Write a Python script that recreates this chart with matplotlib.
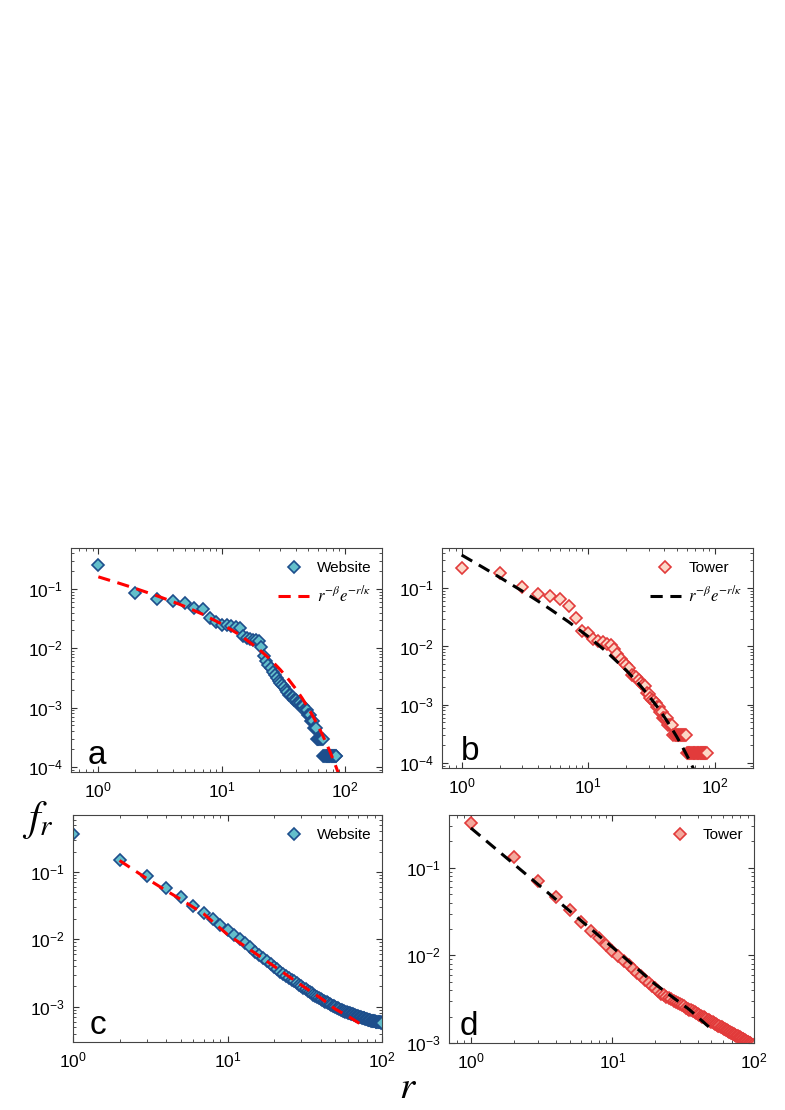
import numpy as np
import matplotlib
matplotlib.use("Agg")
import matplotlib.pyplot as plt

plt.rcParams['font.family'] = ['Liberation Sans', 'DejaVu Sans']
plt.rcParams['mathtext.fontset'] = 'stix'
plt.rcParams['mathtext.default'] = 'it'

# ---------------- data ----------------
# (a) Website rank-frequency
a_rank = list(range(1, 86))
a_freq = [0.254, 0.087, 0.067, 0.063, 0.059, 0.047, 0.046, 0.032, 0.028, 0.0247,
          0.0247, 0.0238, 0.0232, 0.0223, 0.0158, 0.0148, 0.0142, 0.0138, 0.0136, 0.0130,
          0.0107, 0.0075, 0.0062, 0.0052, 0.0046, 0.0040, 0.0035, 0.0031, 0.0028, 0.0026,
          0.0024, 0.0022, 0.0020, 0.0018, 0.00165, 0.00165, 0.0015, 0.0015, 0.00135, 0.00135,
          0.0012, 0.0012, 0.0012, 0.00105, 0.00105, 0.00105, 0.0009, 0.0009, 0.0009, 0.00075,
          0.00075, 0.00075, 0.0006, 0.0006, 0.0006, 0.00045, 0.00045, 0.00045, 0.0003, 0.0003,
          0.0003, 0.0003, 0.0003, 0.0003, 0.0003, 0.0003, 0.00015, 0.00015, 0.00015, 0.00015,
          0.00015, 0.00015, 0.00015, 0.00015, 0.00015, 0.00015, 0.00015, 0.00015, 0.00015, 0.00015,
          0.00015, 0.00015, 0.00015, 0.00015, 0.00015]
a_fit_r = [1, 1.5, 2, 3, 4, 5, 7, 10, 14, 20, 25, 30, 35, 40, 45, 50, 55, 60, 65, 70, 75, 80, 85, 88]
a_fit_f = [0.160, 0.1234, 0.1019, 0.0764, 0.0612, 0.0509, 0.0375, 0.0257, 0.01684, 0.0097,
           0.0064, 0.00432, 0.00296, 0.00206, 0.00144, 0.00101, 0.000718, 0.000512, 0.000366,
           0.000262, 0.000189, 0.000136, 0.0000984, 0.0000811]

# (b) Tower rank-frequency
b_rank = list(range(1, 87))
b_freq = [0.218, 0.183, 0.105, 0.078, 0.073, 0.0665, 0.049, 0.0314, 0.0185, 0.0167,
          0.0135, 0.0125, 0.0120, 0.0110, 0.0105, 0.0090, 0.0075, 0.0060, 0.0052, 0.0048,
          0.0042, 0.0033, 0.0031, 0.0030, 0.0027, 0.0024, 0.0022, 0.0021, 0.0016, 0.0015,
          0.0013, 0.0012, 0.00115, 0.00105, 0.0009, 0.0009, 0.00075, 0.00075, 0.0006, 0.0006,
          0.0006, 0.0006, 0.00045, 0.00045, 0.00045, 0.00045, 0.0003, 0.0003, 0.0003, 0.0003,
          0.0003, 0.0003, 0.0003, 0.0003, 0.0003, 0.0003, 0.0003, 0.0003, 0.0003, 0.00015,
          0.00015, 0.00015, 0.00015, 0.00015, 0.00015, 0.00015, 0.00015, 0.00015, 0.00015, 0.00015,
          0.00015, 0.00015, 0.00015, 0.00015, 0.00015, 0.00015, 0.00015, 0.00015, 0.00015, 0.00015,
          0.00015, 0.00015, 0.00015, 0.00015, 0.00015, 0.00015]
b_fit_r = [1, 1.5, 2, 3, 4, 5, 7, 10, 14, 20, 25, 30, 35, 40, 45, 50, 55, 60, 65, 68]
b_fit_f = [0.3715, 0.2226, 0.1535, 0.0897, 0.0603, 0.0438, 0.02643, 0.01479, 0.00806, 0.00388,
           0.0023, 0.001434, 0.000925, 0.000611, 0.000412, 0.000282, 0.000195, 0.000136,
           0.0000961, 0.0000782]

# (c) Website model
c_rank = list(range(1, 101))
c_freq = [0.365, 0.150, 0.088, 0.057, 0.042, 0.031, 0.0245, 0.020, 0.0164, 0.0138,
          0.0117, 0.0101, 0.0088, 0.0076, 0.0066, 0.0059, 0.0052, 0.0047, 0.0043, 0.0039,
          0.00360, 0.00333, 0.00310, 0.00289, 0.00270, 0.00253, 0.00238, 0.00224, 0.00211, 0.00200,
          0.00191, 0.00182, 0.00174, 0.00166, 0.00159, 0.00152, 0.00146, 0.00141, 0.00136, 0.00131,
          0.00127, 0.00123, 0.00119, 0.00116, 0.00113, 0.00110, 0.00107, 0.00104, 0.00101, 0.00099,
          0.00097, 0.00095, 0.00093, 0.00091, 0.00089, 0.00088, 0.00086, 0.00085, 0.00084, 0.00082,
          0.00081, 0.00080, 0.00079, 0.00078, 0.00077, 0.00076, 0.00075, 0.00074, 0.00073, 0.00072,
          0.00071, 0.00070, 0.000695, 0.00069, 0.00068, 0.000675, 0.00067, 0.00066, 0.000655, 0.00065,
          0.000645, 0.00064, 0.000635, 0.00063, 0.000625, 0.00062, 0.000617, 0.000613, 0.00061, 0.000607,
          0.000604, 0.00060, 0.000598, 0.000595, 0.000592, 0.00059, 0.000588, 0.000586, 0.000584, 0.000582]
c_fit_r = [2, 3, 4, 5, 7, 10, 15, 20, 30, 40, 50, 60, 72]
c_fit_f = [0.148, 0.080, 0.053, 0.039, 0.024, 0.0118, 0.0063, 0.0040, 0.0021, 0.00135,
           0.00092, 0.00073, 0.00056]

# (d) Tower model
d_rank = list(range(1, 101))
d_freq = [0.32, 0.134, 0.071, 0.046, 0.033, 0.0243, 0.0190, 0.0158, 0.0132, 0.0113,
          0.00985, 0.00871, 0.00776, 0.00698, 0.00633, 0.00577, 0.00529, 0.00488, 0.00451, 0.00419,
          0.00391, 0.00366, 0.00352, 0.00339, 0.00326, 0.00315, 0.00304, 0.00295, 0.00286, 0.00277,
          0.00269, 0.00261, 0.00254, 0.00247, 0.00241, 0.00235, 0.00229, 0.00224, 0.00219, 0.00214,
          0.00209, 0.00205, 0.00200, 0.00196, 0.00192, 0.00188, 0.00185, 0.00181, 0.00178, 0.00175,
          0.00172, 0.00169, 0.00166, 0.00163, 0.00160, 0.00158, 0.00155, 0.00153, 0.00151, 0.00148,
          0.00146, 0.00144, 0.00142, 0.00140, 0.00138, 0.00136, 0.00134, 0.00133, 0.00131, 0.00129,
          0.00128, 0.00126, 0.00124, 0.00123, 0.00121, 0.00120, 0.00119, 0.00117, 0.00116, 0.00115,
          0.00113, 0.00112, 0.00111, 0.00110, 0.00108, 0.00107, 0.00106, 0.00105, 0.00104, 0.00103,
          0.00102, 0.00101, 0.00100, 0.00099, 0.00098, 0.00097, 0.00096, 0.00095, 0.00094, 0.00093]
d_fit_r = [1, 2, 3, 5, 10, 20, 35, 51]
d_fit_f = [0.284, 0.111, 0.064, 0.032, 0.0124, 0.0047, 0.0024, 0.0014]

web_label = "Website"
tower_label = "Tower"
fit_label = r"$r^{-\beta}e^{-r/\kappa}$"

# ---------------- styles ----------------
WEB_FACE, WEB_EDGE = "#63bfcb", "#1d4e8c"
TOW_FACE_B, TOW_EDGE = "#fcd8c8", "#e23b3b"
TOW_FACE_D = "#f4a89c"

W, H = 785, 1110
fig = plt.figure(figsize=(W / 100, H / 100), dpi=100)


def ax_at(l, t, r, b):
    return fig.add_axes([l / W, 1 - b / H, (r - l) / W, (b - t) / H])


axa = ax_at(71, 548, 382, 772)
axb = ax_at(442, 548, 753, 768)
axc = ax_at(73, 815, 382, 1042)
axd = ax_at(449, 815, 754, 1043)

mk = dict(marker='D', ms=6.0, mew=1.2, ls='none')
dash = (0, (4, 2.5))

axa.plot(a_rank, a_freq, mfc=WEB_FACE, mec=WEB_EDGE, label=web_label, **mk)
axa.plot(a_fit_r, a_fit_f, color='#ff0000', ls=dash, lw=2.2, label=fit_label)
axa.set_xlim(0.6, 200)
axa.set_ylim(8.2e-5, 0.49)

axb.plot(b_rank, b_freq, mfc=TOW_FACE_B, mec=TOW_EDGE, label=tower_label, **mk)
axb.plot(b_fit_r, b_fit_f, color='black', ls=dash, lw=2.2, label=fit_label)
axb.set_xlim(0.7, 200)
axb.set_ylim(8.2e-5, 0.49)

axc.plot(c_rank, c_freq, mfc=WEB_FACE, mec=WEB_EDGE, label=web_label, **mk)
axc.plot(c_fit_r, c_fit_f, color='#ff0000', ls=dash, lw=2.2)
axc.set_xlim(1, 100)
axc.set_ylim(3e-4, 0.7)

axd.plot(d_rank, d_freq, mfc=TOW_FACE_D, mec=TOW_EDGE, label=tower_label, **mk)
axd.plot(d_fit_r, d_fit_f, color='black', ls=dash, lw=2.2)
axd.set_xlim(0.7, 100)
axd.set_ylim(1e-3, 0.4)

for ax, letter, lx in ((axa, 'a', 0.055), (axb, 'b', 0.06), (axc, 'c', 0.055), (axd, 'd', 0.035)):
    ax.set_xscale('log')
    ax.set_yscale('log')
    ax.tick_params(which='both', direction='in', top=True, right=True, labelsize=12.5,
                   color='#333333', pad=6)
    ax.tick_params(which='major', length=4.5, width=0.8)
    ax.tick_params(which='minor', length=2.5, width=0.6)
    for s in ax.spines.values():
        s.set_color('#444444')
        s.set_linewidth(0.8)
    ax.text(lx, 0.035, letter, transform=ax.transAxes, fontsize=24, va='baseline', ha='left')

for ax in (axa, axb, axc, axd):
    leg = ax.legend(loc='upper right', bbox_to_anchor=(1.0, 0.99), frameon=False, fontsize=11,
                    numpoints=1, handlelength=2.0, handletextpad=0.5, labelspacing=0.6,
                    borderaxespad=0.3)
    for t in leg.get_texts():
        if '$' in t.get_text():
            t.set_fontsize(12)

fig.text(38 / W, 1 - 830 / H, r"$f_r$", fontsize=30, ha='center', va='baseline')
fig.text(408 / W, 1 - 1098 / H, r"$r$", fontsize=28, ha='center', va='baseline')

fig.savefig("out.png", dpi=100)
